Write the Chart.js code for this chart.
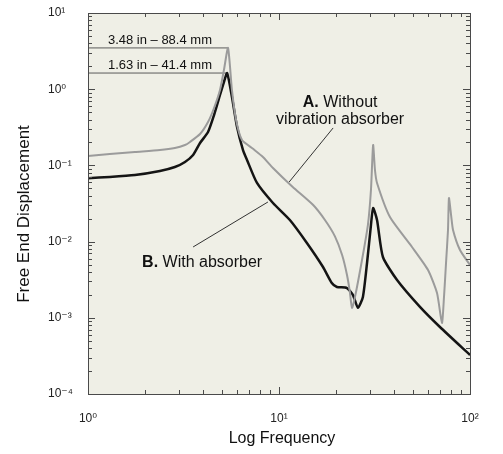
<!DOCTYPE html>
<html>
<head>
<meta charset="utf-8">
<script src="https://cdn.jsdelivr.net/npm/chart.js@4.4.0/dist/chart.umd.min.js"></script>
<style>
  body { margin: 0; background: #fff; }
  #wrap { width: 503px; height: 454px; }
</style>
</head>
<body>
<div id="wrap"><canvas id="chart" width="503" height="454"></canvas></div>
<script>
"use strict";

// Curve A (without absorber)
const freqA = [1.00, 1.30, 1.76, 2.38, 2.85, 3.22, 3.42, 3.86, 4.25, 4.57, 4.91, 5.15, 5.41, 5.67, 5.96, 6.40, 7.31, 8.24, 9.30, 11.8, 15.1, 17.4, 19.6, 21.4, 22.7, 23.5, 24.1, 25.0, 27.2, 29.2, 30.3, 31.1, 31.8, 32.6, 38.1, 49.7, 60.3, 67.2, 71.3, 73.1, 74.9, 76.7, 77.6, 79.6, 81.5, 88.6, 100];
const dispA = [0.133, 0.141, 0.150, 0.159, 0.169, 0.185, 0.203, 0.258, 0.371, 0.567, 0.977, 1.79, 3.48, 0.977, 0.394, 0.215, 0.165, 0.129, 0.0925, 0.0521, 0.0302, 0.0192, 0.0118, 0.00667, 0.00365, 0.00218, 0.00135, 0.00188, 0.00574, 0.0165, 0.0475, 0.185, 0.087, 0.0588, 0.0210, 0.0085, 0.00424, 0.00211, 0.000855, 0.00188, 0.00524, 0.0142, 0.0373, 0.0223, 0.0142, 0.00776, 0.00493];

// Curve B (with absorber)
const freqB = [1.00, 1.30, 1.76, 2.38, 2.85, 3.22, 3.55, 3.86, 4.25, 4.57, 4.91, 5.15, 5.35, 5.67, 6.03, 6.48, 6.80, 7.67, 9.30, 11.4, 14.0, 17.0, 18.9, 20.1, 22.7, 24.4, 25.9, 27.5, 28.9, 30.3, 31.1, 32.6, 35.0, 41.5, 54.7, 69.6, 100];
const dispB = [0.068, 0.0705, 0.0748, 0.0845, 0.0953, 0.111, 0.137, 0.197, 0.274, 0.458, 0.84, 1.24, 1.63, 0.79, 0.319, 0.159, 0.118, 0.0588, 0.0321, 0.0192, 0.00959, 0.00464, 0.00286, 0.00254, 0.00246, 0.00199, 0.00135, 0.00188, 0.00524, 0.0165, 0.0276, 0.0192, 0.00628, 0.00313, 0.00139, 0.000757, 0.000325];

// peak markers and leader lines
const peakLineA = { f: [1, 5.41], d: [3.48, 3.48] };
const peakLineB = { f: [1, 5.35], d: [1.63, 1.63] };
const leaderA = { f: [19.2, 11.3], d: [0.31, 0.0605] };
const leaderB = { f: [3.55, 8.75], d: [0.0085, 0.0331] };

// axis ticks
const xTicks = [1, 10, 100];
const yTicks = [1e-4, 1e-3, 1e-2, 1e-1, 1, 10];

const FONT = "'Liberation Sans', Arial, 'DejaVu Sans', sans-serif";

function toPoints(xs, ys) {
  return xs.map((x, i) => ({ x: x, y: ys[i] }));
}

// 10 with a superscript exponent
function powLabel(v) {
  const sup = { "-": "\u207B", "0": "\u2070", "1": "\u00B9", "2": "\u00B2", "3": "\u00B3", "4": "\u2074" };
  const e = String(Math.round(Math.log10(v)));
  return "10" + e.split("").map((c) => sup[c]).join("");
}

function lineSet(obj, color, width, tension) {
  return {
    data: toPoints(obj.f, obj.d),
    borderColor: color,
    borderWidth: width,
    pointRadius: 0,
    tension: tension || 0,
  };
}

/* background of plot area */
const bgPlugin = {
  id: "bg",
  beforeDraw(chart) {
    const { ctx, chartArea: a } = chart;
    ctx.save();
    ctx.fillStyle = "#efefe6";
    ctx.fillRect(a.left, a.top, a.right - a.left, a.bottom - a.top);
    ctx.restore();
  },
};

/* frame with small inward ticks on all four sides */
const frame = {
  id: "frame",
  afterDatasetsDraw(chart) {
    const { ctx, chartArea: a, scales } = chart;
    ctx.save();
    ctx.strokeStyle = "#4a4a4a";
    ctx.lineWidth = 1;
    ctx.beginPath();
    for (let k = 0; k < 2; k++) {
      for (let m = 1; m <= 9; m++) {
        const px = Math.round(scales.x.getPixelForValue(m * Math.pow(10, k))) + 0.5;
        const len = m === 1 ? 7 : 4;
        ctx.moveTo(px, a.bottom); ctx.lineTo(px, a.bottom - len);
        ctx.moveTo(px, a.top); ctx.lineTo(px, a.top + len);
      }
    }
    for (let k = -4; k < 1; k++) {
      for (let m = 1; m <= 9; m++) {
        const py = Math.round(scales.y.getPixelForValue(m * Math.pow(10, k))) + 0.5;
        const len = m === 1 ? 7 : 4;
        ctx.moveTo(a.left, py); ctx.lineTo(a.left + len, py);
        ctx.moveTo(a.right, py); ctx.lineTo(a.right - len, py);
      }
    }
    ctx.stroke();
    ctx.strokeRect(Math.round(a.left) + 0.5, Math.round(a.top) + 0.5,
      Math.round(a.right - a.left), Math.round(a.bottom - a.top));
    ctx.restore();
  },
};

/* annotations and axis titles */
const texts = {
  id: "texts",
  afterDraw(chart) {
    const { ctx, scales, chartArea: a } = chart;
    const px = (f) => scales.x.getPixelForValue(f);
    const py = (d) => scales.y.getPixelForValue(d);
    ctx.save();
    ctx.fillStyle = "#111";
    ctx.textBaseline = "alphabetic";

    ctx.font = "13px " + FONT;
    ctx.textAlign = "center";
    ctx.fillText("3.48 in \u2013 88.4 mm", px(2.38), py(3.48) - 4);
    ctx.fillText("1.63 in \u2013 41.4 mm", px(2.38), py(1.63) - 4);

    // A. Without / vibration absorber
    ctx.font = "bold 16px " + FONT;
    const wA = ctx.measureText("A.").width;
    ctx.font = "16px " + FONT;
    const wRest = ctx.measureText(" Without").width;
    const startA = px(20.9) - (wA + wRest) / 2;
    ctx.textAlign = "left";
    ctx.font = "bold 16px " + FONT;
    ctx.fillText("A.", startA, py(0.583));
    ctx.font = "16px " + FONT;
    ctx.fillText(" Without", startA + wA, py(0.583));
    ctx.textAlign = "center";
    ctx.fillText("vibration absorber", px(20.9), py(0.349));

    // B. With absorber
    ctx.textAlign = "left";
    ctx.font = "bold 16px " + FONT;
    const wB = ctx.measureText("B.").width;
    ctx.fillText("B.", px(1.92), py(0.00464));
    ctx.font = "16px " + FONT;
    ctx.fillText(" With absorber", px(1.92) + wB, py(0.00464));

    // axis titles
    ctx.font = "16px " + FONT;
    ctx.textAlign = "center";
    ctx.fillText("Log Frequency", (a.left + a.right) / 2 + 3, 443);
    ctx.translate(29, 214);
    ctx.rotate(-Math.PI / 2);
    ctx.font = "17px " + FONT;
    ctx.fillText("Free End Displacement", 0, 0);
    ctx.restore();
  },
};

const config = {
  type: "line",
  data: {
    datasets: [
      lineSet({ f: freqA, d: dispA }, "#9b9b9b", 2, 0.2),
      lineSet({ f: freqB, d: dispB }, "#141414", 2.5, 0.2),
      lineSet(peakLineA, "#5a5a5a", 1),
      lineSet(peakLineB, "#5a5a5a", 1),
      lineSet(leaderA, "#333", 1),
      lineSet(leaderB, "#333", 1),
    ],
  },
  options: {
    responsive: false,
    animation: false,
    layout: { padding: { left: 48, top: 13, right: 33, bottom: 0 } },
    plugins: { legend: { display: false }, tooltip: { enabled: false } },
    scales: {
      x: {
        type: "logarithmic",
        min: 1,
        max: 100,
        grid: { display: false },
        border: { display: false },
        afterBuildTicks: (s) => { s.ticks = xTicks.map((v) => ({ value: v })); },
        afterFit: (s) => { s.height = 60; },
        ticks: {
          padding: 9,
          color: "#222",
          font: { family: FONT, size: 12 },
          callback: (v) => powLabel(v),
          maxRotation: 0,
          autoSkip: false,
        },
      },
      y: {
        type: "logarithmic",
        min: 1e-4,
        max: 10,
        grid: { display: false },
        border: { display: false },
        afterBuildTicks: (s) => { s.ticks = yTicks.map((v) => ({ value: v })); },
        afterFit: (s) => { s.width = 40; },
        ticks: {
          crossAlign: "far",
          color: "#222",
          font: { family: FONT, size: 12 },
          callback: (v) => powLabel(v),
          autoSkip: false,
        },
      },
    },
  },
  plugins: [bgPlugin, frame, texts],
};

new Chart(document.getElementById("chart"), config);
</script>
</body>
</html>
